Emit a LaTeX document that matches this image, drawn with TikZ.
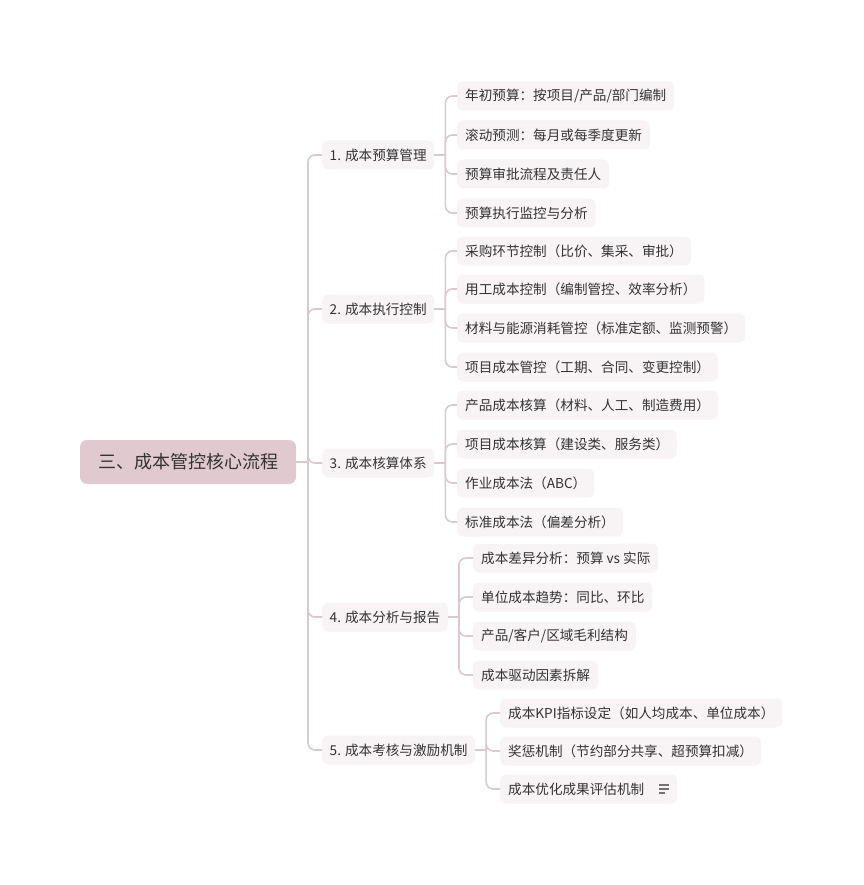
\documentclass[tikz,border=0pt]{standalone}
\usepackage{fontspec}
\setmainfont{Noto Sans CJK SC}
\usetikzlibrary{positioning, calc}
\definecolor{rootfill}{HTML}{E1C9D0}
\definecolor{leaffill}{HTML}{F8F3F4}
\definecolor{linkcol}{HTML}{DCC8CE}
\definecolor{textcol}{HTML}{333333}
\tikzstyle{root} = [rectangle, rounded corners=7pt, fill=rootfill, minimum height=44pt, minimum width=216pt, text centered, text=textcol, font=\fontsize{18pt}{20pt}\selectfont]
\tikzstyle{branch} = [rectangle, rounded corners=6pt, fill=leaffill, minimum height=29pt, inner xsep=7.5pt, anchor=west, text=textcol, font=\fontsize{13.6pt}{15pt}\selectfont]
\tikzstyle{leaf} = [branch, inner xsep=8pt]
\tikzstyle{link} = [draw=linkcol, line width=1.6pt, rounded corners=7pt]
\tikzstyle{icon} = [draw=black!55, line width=1.1pt]

\begin{document}
\begin{tikzpicture}[x=1pt, y=-1pt]
			\useasboundingbox (0,0) rectangle (863,885);
			%中心主题与一级分支
			\node (root) [root] at (188,462) {三、成本管控核心流程};
			\node (b1) [branch] at (322,155) {1. 成本预算管理};
			\node (b2) [branch] at (322,309) {2. 成本执行控制};
			\node (b3) [branch] at (322,463) {3. 成本核算体系};
			\node (b4) [branch] at (322,617) {4. 成本分析与报告};
			\node (b5) [branch] at (322,750) {5. 成本考核与激励机制};
			%二级分支
			\node (a1) [leaf] at (457,96) {年初预算：按项目/产品/部门编制};
			\node (a2) [leaf] at (457,135) {滚动预测：每月或每季度更新};
			\node (a3) [leaf] at (457,174) {预算审批流程及责任人};
			\node (a4) [leaf] at (457,213) {预算执行监控与分析};
			
			\node (c1) [leaf] at (457,251) {采购环节控制（比价、集采、审批）};
			\node (c2) [leaf] at (457,289) {用工成本控制（编制管控、效率分析）};
			\node (c3) [leaf] at (457,328) {材料与能源消耗管控（标准定额、监测预警）};
			\node (c4) [leaf] at (457,367) {项目成本管控（工期、合同、变更控制）};
			
			\node (h1) [leaf] at (457,405) {产品成本核算（材料、人工、制造费用）};
			\node (h2) [leaf] at (457,444) {项目成本核算（建设类、服务类）};
			\node (h3) [leaf] at (457,483) {作业成本法（ABC）};
			\node (h4) [leaf] at (457,522) {标准成本法（偏差分析）};
			
			\node (f1) [leaf] at (473,558) {成本差异分析：预算 vs 实际};
			\node (f2) [leaf] at (473,597) {单位成本趋势：同比、环比};
			\node (f3) [leaf] at (473,636) {产品/客户/区域毛利结构};
			\node (f4) [leaf] at (473,675) {成本驱动因素拆解};
			
			\node (e1) [leaf] at (500,713) {成本KPI指标设定（如人均成本、单位成本）};
			\node (e2) [leaf] at (500,751) {奖惩机制（节约部分共享、超预算扣减）};
			\node (e3) [leaf] at (500,789) {成本优化成果评估机制\hspace*{25pt}\mbox{}};
			%备注图标
			\draw [icon] ($(e3.east)+(-18,-4)$) -- ++(10,0);
			\draw [icon] ($(e3.east)+(-18,0)$) -- ++(10,0);
			\draw [icon] ($(e3.east)+(-18,4)$) -- ++(6,0);
			%连接线
			\coordinate (j0) at (308,462);
			\draw [link] (root.east) -- (j0);
			\foreach \b in {b1,b2,b3,b4,b5} \draw [link] (j0) |- (\b.west);
			\coordinate (j1) at ($(b1.east)+(11,0)$);
			\draw [link] (b1.east) -- (j1);
			\foreach \c in {a1,a2,a3,a4} \draw [link] (j1) |- (\c.west);
			\coordinate (j2) at ($(b2.east)+(11,0)$);
			\draw [link] (b2.east) -- (j2);
			\foreach \c in {c1,c2,c3,c4} \draw [link] (j2) |- (\c.west);
			\coordinate (j3) at ($(b3.east)+(11,0)$);
			\draw [link] (b3.east) -- (j3);
			\foreach \c in {h1,h2,h3,h4} \draw [link] (j3) |- (\c.west);
			\coordinate (j4) at ($(b4.east)+(11,0)$);
			\draw [link] (b4.east) -- (j4);
			\foreach \c in {f1,f2,f3,f4} \draw [link] (j4) |- (\c.west);
			\coordinate (j5) at ($(b5.east)+(11,0)$);
			\draw [link] (b5.east) -- (j5);
			\foreach \c in {e1,e2,e3} \draw [link] (j5) |- (\c.west);
		\end{tikzpicture}
\end{document}
